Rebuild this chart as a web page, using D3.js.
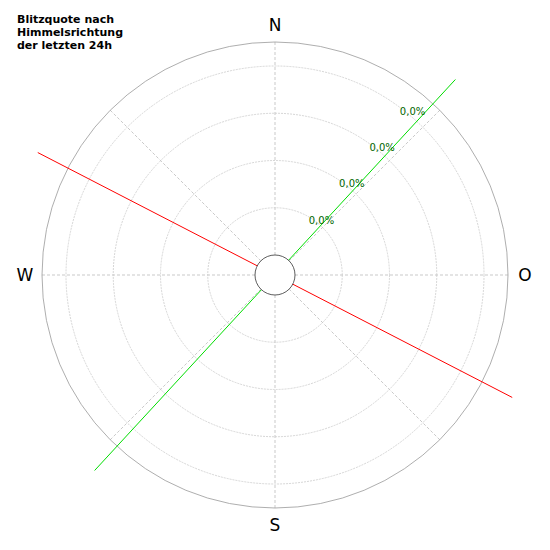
<!DOCTYPE html>
<html><head><meta charset="utf-8">
<script src="https://cdn.jsdelivr.net/npm/d3@7"></script>
<style>body{margin:0;background:#fff}</style>
</head><body>
<div id="chart"></div>
<script>
// DATA //
let titleLines = ["Blitzquote nach", "Himmelsrichtung", "der letzten 24h"];
let directions = ["N", "O", "S", "W"];
let directionAngles = [0, 90, 180, 270];
let rings = [1, 2, 3, 4];
let ringLabels = ["0,0%", "0,0%", "0,0%", "0,0%"];
let spokeAngles = [0, 45, 90, 135, 180, 225, 270, 315];
let lineNames = ["rot", "gruen"];
let lineBearings = [117.3, 42.7];
let lineLengths = [5.65, 5.63];
let lineColors = ["#ff0000", "#00dd00"];

// DIMENSIONS //
let width = 550, height = 550, cx = 275, cy = 275;
let innerR = 20;

let svg = d3.select("#chart").append("svg")
    .attr("width", width).attr("height", height)
    .style("font-family", "DejaVu Sans");

let g = svg.append("g").attr("transform", "translate(" + cx + "," + cy + ")");

// radial scale: ring units -> pixels
let r = d3.scaleLinear().domain([0, 4]).range([innerR, 209]);
let outerR = 233;
let rad = a => (a - 90) * Math.PI / 180;

// spokes
g.selectAll(".spoke").data(spokeAngles).enter().append("line")
    .attr("x1", a => innerR * Math.cos(rad(a))).attr("y1", a => innerR * Math.sin(rad(a)))
    .attr("x2", a => outerR * Math.cos(rad(a))).attr("y2", a => outerR * Math.sin(rad(a)))
    .attr("stroke", "#bbb").attr("stroke-width", 0.8).attr("stroke-dasharray", "3,2");

// rings
g.selectAll(".ring").data(rings).enter().append("circle")
    .attr("r", d => r(d)).attr("fill", "none")
    .attr("stroke", "#ccc").attr("stroke-width", 0.8).attr("stroke-dasharray", "2,1");

g.append("circle").attr("r", outerR).attr("fill", "none").attr("stroke", "#999").attr("stroke-width", 0.8);

// data lines
lineBearings.forEach((b, i) => {
    let L = r(lineLengths[i]) - innerR;
    g.append("line")
        .attr("x1", -L * Math.cos(rad(b))).attr("y1", -L * Math.sin(rad(b)))
        .attr("x2", L * Math.cos(rad(b))).attr("y2", L * Math.sin(rad(b)))
        .attr("stroke", lineColors[i]).attr("stroke-width", 1);
});

// inner circle
g.append("circle").attr("r", innerR).attr("fill", "#fff").attr("stroke", "#333").attr("stroke-width", 0.8);

// ring labels
g.selectAll(".rl").data(rings).enter().append("text")
    .attr("x", d => (r(d) + 5) * Math.cos(rad(40)))
    .attr("y", d => (r(d) + 5) * Math.sin(rad(40)) + 4)
    .attr("text-anchor", "middle").attr("font-size", 10).attr("fill", "#006600")
    .text((d, i) => ringLabels[i]);

// direction labels
g.selectAll(".dir").data(directions).enter().append("text")
    .attr("x", (d, i) => 250 * Math.cos(rad(directionAngles[i])))
    .attr("y", (d, i) => 250 * Math.sin(rad(directionAngles[i])) + 6)
    .attr("text-anchor", "middle").attr("font-size", 17).attr("fill", "#000")
    .text(d => d);

// title
svg.selectAll(".title").data(titleLines).enter().append("text")
    .attr("x", 17).attr("y", (d, i) => 23 + i * 13)
    .attr("font-size", 11).attr("font-weight", "bold")
    .text(d => d);
</script>
</body></html>
